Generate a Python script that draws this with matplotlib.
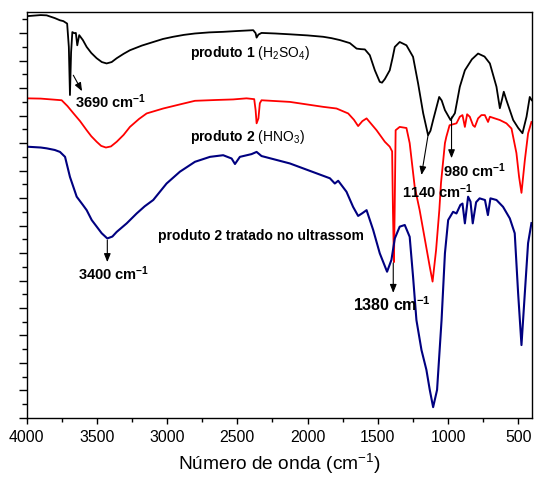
import matplotlib
matplotlib.use("Agg")
import matplotlib.pyplot as plt
from matplotlib.ticker import MultipleLocator

plt.rcParams['font.family'] = ['Liberation Sans', 'DejaVu Sans']
plt.rcParams['mathtext.fontset'] = 'custom'
plt.rcParams['mathtext.rm'] = 'Liberation Sans'
plt.rcParams['mathtext.it'] = 'Liberation Sans:italic'
plt.rcParams['mathtext.bf'] = 'Liberation Sans:bold'

# produto 1 (H2SO4)
w_p1 = [4000, 3900, 3858, 3800, 3763, 3739, 3712, 3700, 3692, 3684, 3675, 3661, 3650, 3640,
        3626, 3600, 3573, 3540, 3502, 3465, 3431, 3395, 3359, 3310, 3265, 3180, 3099, 3030,
        2957, 2880, 2802, 2700, 2601, 2500, 2387, 2370, 2363, 2350, 2328, 2230, 2126, 2000,
        1889, 1830, 1770, 1699, 1651, 1620, 1592, 1557, 1521, 1486, 1470, 1450, 1415, 1395,
        1379, 1344, 1296, 1249, 1213, 1177, 1142, 1125, 1106, 1063, 1045, 1022, 982, 951,
        916, 880, 830, 786, 740, 702, 655, 631, 615, 603, 584, 536, 500, 470, 441, 418, 404]
t_p1 = [14.62, 14.66, 14.65, 14.55, 14.47, 14.44, 14.35, 13.5, 11.75, 13.3, 14.04, 14.0, 14.01, 13.56,
        13.93, 13.75, 13.50, 13.28, 13.09, 12.95, 12.90, 12.95, 13.09, 13.25, 13.38, 13.55, 13.68, 13.79,
        13.87, 13.94, 13.99, 14.03, 14.05, 14.08, 14.11, 14.0, 13.84, 13.95, 14.01, 13.99, 13.96, 13.92,
        13.87, 13.82, 13.75, 13.64, 13.44, 13.42, 13.41, 13.2, 12.65, 12.23, 12.2, 12.33, 12.65, 13.1,
        13.50, 13.68, 13.56, 13.14, 12.17, 11.09, 10.29, 10.45, 10.84, 11.68, 11.55, 11.2, 10.84, 11.09,
        12.05, 12.65, 13.05, 13.26, 13.15, 12.90, 12.05, 11.27, 11.6, 11.87, 11.56, 10.84, 10.55, 10.36, 10.96, 11.68, 11.56]

# produto 2 (HNO3)
w_p2 = [4000, 3900, 3800, 3751, 3710, 3668, 3620, 3573, 3540, 3502, 3470, 3436, 3400, 3359,
        3310, 3265, 3200, 3146, 3028, 2900, 2802, 2650, 2530, 2435, 2380, 2370, 2363, 2350,
        2340, 2328, 2126, 1889, 1794, 1711, 1670, 1640, 1610, 1580, 1509, 1450, 1415, 1398,
        1392, 1385, 1380, 1373, 1344, 1296, 1273, 1237, 1202, 1160, 1130, 1110, 1085, 1062,
        1050, 1022, 1012, 989, 940, 916, 897, 880, 864, 845, 822, 809, 786, 762, 738, 715,
        702, 667, 631, 584, 548, 513, 494, 477, 453, 430, 406]
t_p2 = [11.63, 11.62, 11.58, 11.56, 11.35, 11.09, 10.8, 10.47, 10.25, 10.05, 9.9, 9.84, 9.88, 10.05,
        10.3, 10.59, 10.88, 11.08, 11.26, 11.42, 11.54, 11.57, 11.59, 11.63, 11.6, 11.2, 10.72, 10.9,
        11.45, 11.56, 11.50, 11.32, 11.26, 11.08, 10.85, 10.62, 10.8, 10.9, 10.47, 10.05, 9.87, 9.7,
        7.5, 5.67, 7.5, 10.47, 10.59, 10.55, 10.0, 8.4, 7.56, 6.36, 5.5, 4.96, 6.11, 7.56,
        8.55, 10.0, 10.23, 10.65, 10.72, 10.96, 11.02, 10.59, 11.05, 10.96, 10.65, 10.59, 10.9, 11.02, 11.02, 10.77,
        10.96, 10.9, 10.84, 10.72, 10.53, 9.64, 8.77, 8.19, 9.38, 10.35, 10.77]

# produto 2 tratado no ultrassom
w_p3 = [4000, 3900, 3858, 3800, 3763, 3727, 3692, 3644, 3600, 3573, 3537, 3500, 3466, 3426,
        3390, 3359, 3288, 3217, 3160, 3099, 3004, 2909, 2802, 2695, 2601, 2541, 2517, 2482,
        2399, 2363, 2328, 2126, 1936, 1841, 1806, 1782, 1723, 1676, 1640, 1610, 1580, 1533,
        1486, 1434, 1403, 1379, 1344, 1308, 1273, 1249, 1225, 1189, 1154, 1130, 1106, 1078,
        1046, 1022, 999, 964, 940, 912, 897, 880, 857, 840, 824, 800, 775, 737, 716, 698,
        655, 608, 560, 525, 501, 477, 453, 430, 406]
t_p3 = [9.87, 9.84, 9.81, 9.75, 9.68, 9.50, 8.77, 8.05, 7.75, 7.56, 7.2, 6.95, 6.72, 6.53,
        6.6, 6.77, 7.08, 7.44, 7.7, 7.93, 8.53, 8.96, 9.32, 9.50, 9.56, 9.44, 9.24, 9.50,
        9.6, 9.68, 9.53, 9.26, 8.9, 8.72, 8.53, 8.63, 8.23, 7.68, 7.35, 7.45, 7.56, 6.84,
        5.99, 5.32, 5.75, 6.53, 6.96, 7.02, 6.59, 5.14, 3.56, 2.47, 1.75, 1.02, 0.39, 1.02,
        3.56, 5.99, 7.2, 7.5, 7.44, 7.75, 7.8, 7.08, 8.05, 7.87, 7.08, 7.85, 7.99, 7.93, 7.38, 7.99,
        7.93, 7.68, 7.26, 6.72, 4.55, 2.65, 4.55, 6.36, 7.09]

fig = plt.figure(figsize=(5.34, 4.82), dpi=100)
ax = fig.add_axes([0.05, 0.133, 0.946, 0.842])

ax.plot(w_p1, t_p1, color='black', lw=1.3)
ax.plot(w_p2, t_p2, color='#ff0000', lw=1.3)
ax.plot(w_p3, t_p3, color='#000080', lw=1.5)

ax.set_xlim(4000, 403)
ax.set_ylim(0, 14.77)
ax.xaxis.set_major_locator(MultipleLocator(500))
ax.xaxis.set_minor_locator(MultipleLocator(250))
ax.yaxis.set_major_locator(MultipleLocator(1))
ax.yaxis.set_minor_locator(MultipleLocator(0.5))
ax.tick_params(axis='y', which='both', labelleft=False, direction='out')
ax.tick_params(axis='y', which='major', length=6, width=1)
ax.tick_params(axis='y', which='minor', length=3.5, width=1)
ax.tick_params(axis='x', which='major', length=4.5, width=1, labelsize=11.4, pad=4)
ax.tick_params(axis='x', which='minor', length=3, width=1)
for s in ax.spines.values():
    s.set_linewidth(1)

ax.set_xlabel('Número de onda (cm$^{-1}$)', fontsize=13.8, labelpad=5)

ax.text(2838, 13.27, r'$\mathbf{produto\ 1}\ (\mathrm{H_2SO_4})$', fontsize=10, ha='left', va='center')
ax.text(2838, 10.22, r'$\mathbf{produto\ 2}\ (\mathrm{HNO_3})$', fontsize=10, ha='left', va='center')
ax.text(3063, 6.62, 'produto 2 tratado no ultrassom', fontsize=10, fontweight='bold', ha='left', va='center')

aprops = dict(arrowstyle='-|>,head_length=0.5,head_width=0.2', color='black', lw=0.8, shrinkA=0, shrinkB=0)
ax.annotate('', xy=(3606, 11.89), xytext=(3668, 12.47), arrowprops=aprops)
ax.annotate('', xy=(3426, 5.67), xytext=(3426, 6.47), arrowprops=aprops)
ax.annotate('', xy=(1390, 4.55), xytext=(1390, 5.64), arrowprops=aprops)
ax.annotate('', xy=(1189, 8.84), xytext=(1142, 10.29), arrowprops=aprops)
ax.annotate('', xy=(975, 9.45), xytext=(975, 10.95), arrowprops=aprops)

ax.text(3656, 11.49, r'3690 cm$^{\mathbf{-1}}$', fontsize=10.5, fontweight='bold', ha='left', va='center')
ax.text(3635, 5.24, r'3400 cm$^{\mathbf{-1}}$', fontsize=10.5, fontweight='bold', ha='left', va='center')
ax.text(1677, 4.11, r'1380 cm$^{\mathbf{-1}}$', fontsize=11.5, fontweight='bold', ha='left', va='center')
ax.text(1329, 8.25, r'1140 cm$^{\mathbf{-1}}$', fontsize=10.5, fontweight='bold', ha='left', va='center')
ax.text(1037, 8.98, r'980 cm$^{\mathbf{-1}}$', fontsize=10.5, fontweight='bold', ha='left', va='center')

fig.savefig('out.png', dpi=100)
